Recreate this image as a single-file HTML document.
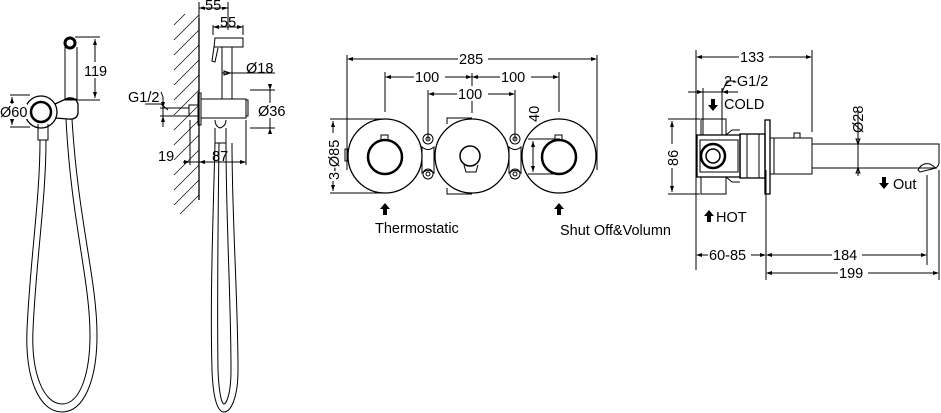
<!DOCTYPE html>
<html><head><meta charset="utf-8"><style>
html,body{margin:0;padding:0;background:#fff;}
svg{display:block}
text{font-family:"Liberation Sans",sans-serif;font-size:14.5px;fill:#000}
</style></head><body>
<svg width="941" height="413" viewBox="0 0 941 413" xmlns="http://www.w3.org/2000/svg">
<g fill="none" stroke="#000" stroke-width="1">
<!-- LEFT VIEW -->
<circle cx="70" cy="43" r="5" stroke-width="3"/>
<path d="M65,47 V100 H77 V47"/>
<path d="M65,99 h12"/>
<circle cx="41" cy="112" r="16" stroke-width="1.3"/>
<circle cx="41" cy="112" r="10" stroke-width="2.5"/>
<path d="M55,104 L68,98 Q76,97 78,104 V113 Q77,120 68,119 L55,118" stroke-width="1.3"/>
<path d="M38,124 V140 H48 V124"/>
<path d="M75,37 H100 M75,100 H100 M95,39 V98"/>
<path d="M10,95 H30 M10,127 H30 M12,97 V125"/>
<path d="M40,140 C40,200 30,260 27,330 C25,380 40,412 62,412 C84,412 97,380 97,335 C97,280 78,220 72,119"/>
<path d="M46,140 C46,200 36,260 33,330 C31,374 44,404 62,404 C80,404 90,374 90,335 C90,280 71,220 66,119"/>
<!-- SIDE VIEW -->
<path d="M199,18 V200" stroke-width="1.3"/>
<g stroke-width="0.7">
<path d="M174,40 L199,15 M174,55 L199,30 M174,70 L199,45 M174,85 L199,60 M174,100 L199,75 M174,115 L199,90 M174,130 L199,105 M174,145 L199,120 M174,160 L199,135 M174,175 L199,150 M174,190 L199,165 M174,205 L199,180 M180,214 L199,195 M174,25 L185,14"/>
</g>
<path d="M199,2 V40 M228,2 V30 M199,8 H228"/>
<path d="M213,35 V25 M243,35 V25 M213,27 H243"/>
<path d="M215,38 H243 V47 H214 z"/>
<path d="M214,47 l-2,14 l3,1 l3,-14"/>
<path d="M222,47 V99 M232,47 V99"/>
<path d="M222,73 H275 M230,73 l-6,-2 v4z"/>
<rect x="198" y="93" width="3" height="32"/>
<path d="M201,99 H246 V118 H201 M246,100 h2 v16 h-2"/>
<rect x="189" y="105" width="10" height="11"/>
<path d="M160,108 H189 M160,116 H189 M163,97 V127"/>
<path d="M163,97 l-2,-5 M145,104 L161,104 L168,110"/>
<path d="M215,120 Q215,126 220,128 Q226,126 226,120 M215,128 V143 H226 V128"/>
<path d="M250,90 H275 M250,128 H275 M270,84 V134"/>
<path d="M190,120 V165 M246,120 V165 M183,162 H246"/>
<path d="M215,143 C213,220 210,300 212,370 C213,400 218,412 224,412 C230,412 238,400 238,370 C238,300 232,220 232,143"/>
<path d="M219,143 C218,220 217,300 218,370 C219,395 222,404 224,404 C226,404 231,395 231,370 C231,300 226,220 226,143"/>
<!-- MIDDLE VIEW -->
<path d="M347,55 V170 M597,55 V170 M349,59 H595"/>
<path d="M385,72 V112 M559,72 V112 M472,73 V113 M387,77 H557"/>
<path d="M428,90 V140 M515,90 V140 M430,94 H513"/>
<circle cx="385" cy="156" r="37" stroke-width="1.3"/>
<circle cx="472" cy="156" r="37" stroke-width="1.3"/>
<circle cx="559" cy="156" r="37" stroke-width="1.3"/>
<circle cx="385" cy="157" r="17" stroke-width="2.5"/>
<circle cx="559" cy="157" r="17" stroke-width="2.5"/>
<path d="M381,139 v-4 h7 v4 M555,139 v-4 h7 v4"/>
<circle cx="470" cy="156" r="10" stroke-width="1.5"/>
<path d="M464,165 l2,7 h10 l2,-7"/>
<path d="M447,124 V118 H472 M447,188 V194 H472"/>
<path d="M422,147 Q428,152 434,147 V173 Q428,168 422,173z M509,147 Q515,152 521,147 V173 Q515,168 509,173z"/>
<circle cx="428" cy="139" r="5"/><circle cx="428" cy="139" r="2"/>
<circle cx="428" cy="174" r="5"/><circle cx="428" cy="174" r="2"/>
<circle cx="515" cy="139" r="5"/><circle cx="515" cy="139" r="2"/>
<circle cx="515" cy="174" r="5"/><circle cx="515" cy="174" r="2"/>
<rect x="345" y="149" width="3" height="12"/>
<path d="M330,119 H385 M330,193 H385 M333,121 V191"/>
<path d="M528,139 H560 M528,174 H560 M533,141 V172"/>
<!-- RIGHT VIEW -->
<path d="M696,50 V270 M812,50 V132 M698,57 H810"/>
<path d="M688,92 H738 M703,88 V135 M722,88 V135 M722,92 L727,81 H735"/>
<path d="M668,119 H700 M668,194 H700 M672,121 V192"/>
<rect x="701" y="119" width="25" height="16"/>
<rect x="701" y="177" width="25" height="17"/>
<rect x="697" y="135" width="43" height="42" stroke-width="1.3"/>
<rect x="700" y="140" width="38" height="32"/>
<circle cx="713" cy="156" r="12" stroke-width="2.5"/>
<circle cx="713" cy="156" r="7" stroke-width="1.5"/>
<path d="M726,135 l6,-5 h8 M726,177 l6,5 h8"/>
<rect x="740" y="134" width="25" height="44" stroke-width="1.3"/>
<path d="M747,134 V178 M759,134 V178"/>
<rect x="765" y="120" width="5" height="74" stroke-width="1.3"/>
<path d="M770,138 H812 V174 H770 M774,138 V174"/>
<rect x="794" y="133" width="6" height="5"/>
<path d="M812,144 H939 V163 Q938,168 934,168 H812"/>
<path d="M918,170 Q922,162 930,164 L936,168 L920,172z"/>
<path d="M858,110 V176 M858,144 l-2,-5 h4z M858,168 l-2,5 h4z"/>
<path d="M766,170 V280 M927,175 V265 M939,170 V280"/>
<path d="M698,255 H764 M768,255 H925 M768,273 H937"/>
</g>
<g fill="#000">
<path d="M95,39 l-2,6 h4z M95,98 l-2,-6 h4z"/>
<path d="M199,8 l6,-2 v4z M228,8 l-6,-2 v4z M213,27 l6,-2 v4z M243,27 l-6,-2 v4z"/>
<path d="M12,97 l-2,6 h4z M12,125 l-2,-6 h4z"/>
<path d="M163,108 l-2,-6 h4z M163,116 l-2,6 h4z"/>
<path d="M270,90 l-2,-6 h4z M270,128 l-2,6 h4z"/>
<path d="M190,162 l-6,-2 v4z M199,162 l6,-2 v4z M246,162 l-6,-2 v4z"/>
<path d="M347,59 l6,-2 v4z M597,59 l-6,-2 v4z"/>
<path d="M385,77 l6,-2 v4z M559,77 l-6,-2 v4z M472,77 l-6,-2 v4z M472,77 l6,-2 v4z"/>
<path d="M428,94 l6,-2 v4z M515,94 l-6,-2 v4z"/>
<path d="M333,121 l-2,6 h4z M333,191 l-2,-6 h4z"/>
<path d="M533,141 l-2,6 h4z M533,172 l-2,-6 h4z"/>
<path d="M696,57 l6,-2 v4z M812,57 l-6,-2 v4z"/>
<path d="M703,92 l-6,-2 v4z M722,92 l6,-2 v4z"/>
<path d="M672,121 l-2,6 h4z M672,192 l-2,-6 h4z"/>
<path d="M696,255 l6,-2 v4z M766,255 l-6,-2 v4z M766,255 l6,-2 v4z M927,255 l-6,-2 v4z M766,273 l6,-2 v4z M939,273 l-6,-2 v4z"/>
<path d="M385,203 l-5,6 h3 v6 h4 v-6 h3z"/>
<path d="M559,203 l-5,6 h3 v6 h4 v-6 h3z"/>
<path d="M709,210 l-5,6 h3 v6 h4 v-6 h3z"/>
<path d="M713,111 l-5,-6 h3 v-6 h4 v6 h3z"/>
<path d="M884,189 l-5,-6 h3 v-6 h4 v6 h3z"/>
</g>
<g>
<rect x="83" y="62" width="24" height="16" fill="#fff"/>
<text x="84" y="76">119</text>
<rect x="0" y="104" width="27" height="15" fill="#fff"/>
<text x="0" y="117">Ø60</text>
<rect x="204" y="0" width="22" height="7" fill="#fff"/>
<text x="205" y="10">55</text>
<text x="220" y="27">55</text>
<text x="246" y="73">Ø18</text>
<text x="128" y="102">G1/2</text>
<rect x="257" y="103" width="28" height="15" fill="#fff"/>
<text x="258" y="116">Ø36</text>
<text x="158" y="161">19</text>
<text x="212" y="161">87</text>
<rect x="458" y="51" width="30" height="15" fill="#fff"/>
<text x="459" y="64">285</text>
<rect x="414" y="69" width="31" height="15" fill="#fff"/>
<text x="415" y="82">100</text>
<rect x="500" y="69" width="31" height="15" fill="#fff"/>
<text x="501" y="82">100</text>
<rect x="457" y="86" width="31" height="15" fill="#fff"/>
<text x="458" y="99">100</text>
<rect x="325" y="133" width="15" height="48" fill="#fff"/>
<text transform="translate(339,180) rotate(-90)">3-Ø85</text>
<text transform="translate(539,122) rotate(-90)">40</text>
<text x="375" y="233">Thermostatic</text>
<text x="560" y="235">Shut Off&amp;Volumn</text>
<rect x="739" y="49" width="30" height="15" fill="#fff"/>
<text x="740" y="62">133</text>
<text x="724" y="86">2-G1/2</text>
<text x="724" y="109">COLD</text>
<rect x="664" y="144" width="15" height="24" fill="#fff"/>
<text transform="translate(678,166) rotate(-90)">86</text>
<text transform="translate(863,133) rotate(-90)">Ø28</text>
<text x="893" y="189">Out</text>
<text x="716" y="222">HOT</text>
<rect x="708" y="247" width="43" height="15" fill="#fff"/>
<text x="709" y="260">60-85</text>
<rect x="832" y="247" width="30" height="15" fill="#fff"/>
<text x="833" y="260">184</text>
<rect x="838" y="265" width="30" height="15" fill="#fff"/>
<text x="839" y="278">199</text>
</g>
</svg>
</body></html>
